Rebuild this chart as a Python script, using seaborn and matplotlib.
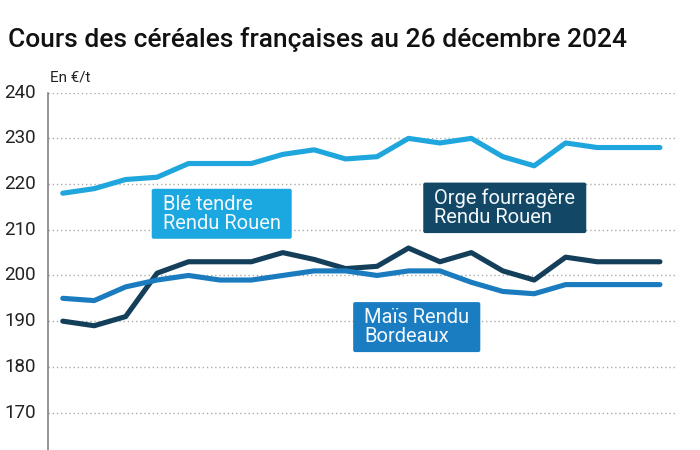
import matplotlib
matplotlib.use("Agg")
import matplotlib.pyplot as plt
from matplotlib.patches import FancyBboxPatch
from matplotlib.transforms import IdentityTransform
import seaborn as sns
import pandas as pd

# ---- data ----
semaines = list(range(1, 21))
ble_tendre_rouen = [218, 219, 221, 221.5, 224.5, 224.5, 224.5, 226.5, 227.5, 225.5,
                    226, 230, 229, 230, 226, 224, 229, 228, 228, 228]
orge_fourragere_rouen = [190, 189, 191, 200.5, 203, 203, 203, 205, 203.5, 201.5,
                         202, 206, 203, 205, 201, 199, 204, 203, 203, 203]
mais_rendu_bordeaux = [195, 194.5, 197.5, 199, 200, 199, 199, 200, 201, 201,
                       200, 201, 201, 198.5, 196.5, 196, 198, 198, 198, 198]
series_noms = ["Blé tendre\nRendu Rouen", "Orge fourragère\nRendu Rouen", "Maïs Rendu\nBordeaux"]
y_ticks = [170, 180, 190, 200, 210, 220, 230, 240]

couleurs = {series_noms[0]: "#1fa6dd", series_noms[1]: "#143f5a", series_noms[2]: "#1a7cbf"}
couleurs_box = {series_noms[0]: "#1ba7df", series_noms[1]: "#134766", series_noms[2]: "#1a7cc1"}

df = pd.concat([
    pd.DataFrame({"semaine": semaines, "prix": ble_tendre_rouen, "serie": series_noms[0]}),
    pd.DataFrame({"semaine": semaines, "prix": orge_fourragere_rouen, "serie": series_noms[1]}),
    pd.DataFrame({"semaine": semaines, "prix": mais_rendu_bordeaux, "serie": series_noms[2]}),
])

sns.set_theme(style="white")
plt.rcParams["font.family"] = ["Roboto", "DejaVu Sans"]

fig = plt.figure(figsize=(7, 4.5), dpi=100)
ax = fig.add_axes([48 / 700, 0.0, (675 - 48) / 700, 1 - 92.7 / 450])

sns.lineplot(data=df, x="semaine", y="prix", hue="serie", palette=couleurs,
             hue_order=[series_noms[1], series_noms[2], series_noms[0]],
             linewidth=3.7, legend=False, ax=ax, solid_capstyle="round",
             solid_joinstyle="round")

ax.set_xlim(semaines[0] - 0.47, semaines[-1] + 0.48)
ax.set_ylim(161.8, 240)
ax.set_yticks(y_ticks)
ax.set_yticklabels([str(v) for v in y_ticks], fontsize=13.5, color="#222222")
ax.tick_params(axis="y", length=0, pad=8.5)
ax.tick_params(axis="x", length=0, labelbottom=False)
ax.set_xlabel("")
ax.set_ylabel("")
for lab in ax.get_yticklabels():
    lab.set_verticalalignment("center")

ax.grid(axis="y", color="#aaaaaa", linestyle=(0, (1, 2)), linewidth=1.0)
ax.set_axisbelow(True)
for s in ["top", "right", "bottom"]:
    ax.spines[s].set_visible(False)
ax.spines["left"].set_color("#777777")
ax.spines["left"].set_linewidth(1.1)

# label boxes
labels_pos = {series_noms[0]: (semaines[0] + 3.18, 213.5),
              series_noms[1]: (semaines[0] + 11.82, 214.8),
              series_noms[2]: (semaines[0] + 9.59, 188.7)}
textes = {}
for nom, (xx, yy) in labels_pos.items():
    textes[nom] = ax.text(xx, yy, nom, ha="left", va="center", fontsize=14.5,
                          color="#f2f8fc", linespacing=1.0, zorder=6)

fig.canvas.draw()
renderer = fig.canvas.get_renderer()
for nom, t in textes.items():
    bb = t.get_window_extent(renderer)
    padx, pady = 11, 6
    patch = FancyBboxPatch((bb.x0 - padx, bb.y0 - pady), bb.width + 2 * padx,
                           bb.height + 2 * pady,
                           boxstyle="round,pad=0,rounding_size=2",
                           fc=couleurs_box[nom], ec="none",
                           transform=IdentityTransform(), zorder=5)
    ax.add_artist(patch)

fig.text(8 / 700, 1 - 40 / 450, "Cours des céréales françaises au 26 décembre 2024",
         fontsize=19, fontweight="medium", color="#111111", va="center", ha="left")
fig.text(50 / 700, 1 - 77 / 450, "En €/t", fontsize=11, color="#222222",
         va="center", ha="left")

fig.savefig("out.png", dpi=100)
